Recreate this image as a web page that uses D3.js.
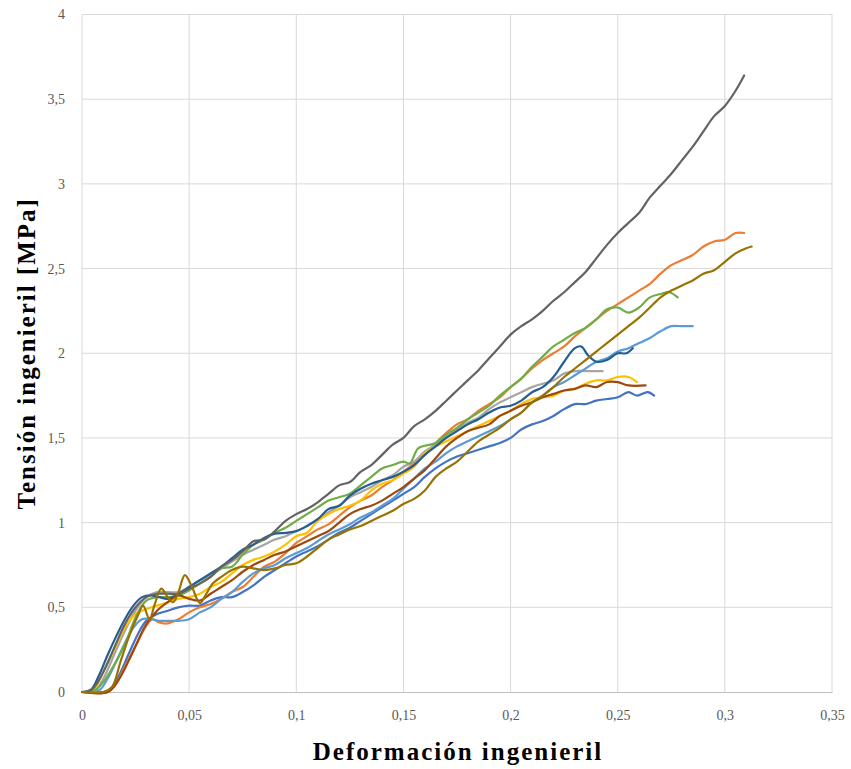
<!DOCTYPE html>
<html>
<head>
<meta charset="utf-8">
<script src="https://cdn.jsdelivr.net/npm/d3@7"></script>
<style>
  html, body { margin: 0; padding: 0; background: #fff; }
  svg { display: block; }
</style>
</head>
<body>
<svg id="chart" width="851" height="769"></svg>
<script>
// ---------- DATA (strain, stress MPa) ----------
const xTicks = [0, 0.05, 0.1, 0.15, 0.2, 0.25, 0.3, 0.35];
const yTicks = [0, 0.5, 1, 1.5, 2, 2.5, 3, 3.5, 4];
const xTitle = "Deformación ingenieril";
const yTitle = "Tensión ingenieril [MPa]";

const seriesColors = ["#4472C4", "#ED7D31", "#A5A5A5", "#FFC000", "#5B9BD5", "#70AD47", "#255E91", "#9E480E", "#636363", "#997300"];

const s1 = [[0,0],[0.01,0],[0.013,0.01],[0.017,0.09],[0.022,0.23],[0.026,0.34],[0.03,0.42],[0.035,0.46],[0.04,0.48],[0.045,0.5],[0.05,0.51],[0.055,0.51],[0.06,0.54],[0.065,0.56],[0.07,0.56],[0.075,0.59],[0.08,0.63],[0.085,0.68],[0.09,0.72],[0.095,0.76],[0.1,0.8],[0.105,0.83],[0.11,0.86],[0.115,0.9],[0.12,0.94],[0.125,0.97],[0.13,1.01],[0.135,1.05],[0.14,1.09],[0.145,1.13],[0.15,1.17],[0.155,1.21],[0.16,1.27],[0.165,1.32],[0.17,1.36],[0.175,1.39],[0.18,1.41],[0.185,1.43],[0.19,1.45],[0.195,1.47],[0.2,1.5],[0.205,1.55],[0.21,1.58],[0.215,1.6],[0.22,1.63],[0.225,1.67],[0.23,1.7],[0.235,1.7],[0.24,1.72],[0.245,1.73],[0.25,1.74],[0.255,1.77],[0.259,1.75],[0.264,1.77],[0.267,1.75]];

const s2 = [[0,0],[0.012,0],[0.016,0.05],[0.02,0.15],[0.025,0.27],[0.03,0.39],[0.033,0.43],[0.036,0.41],[0.04,0.405],[0.045,0.43],[0.05,0.47],[0.055,0.5],[0.06,0.52],[0.065,0.55],[0.07,0.59],[0.075,0.62],[0.08,0.68],[0.085,0.74],[0.09,0.77],[0.095,0.82],[0.1,0.88],[0.105,0.92],[0.11,0.96],[0.115,0.99],[0.12,1.04],[0.125,1.09],[0.13,1.13],[0.135,1.16],[0.14,1.21],[0.145,1.25],[0.15,1.3],[0.155,1.35],[0.16,1.4],[0.165,1.47],[0.17,1.53],[0.175,1.58],[0.18,1.61],[0.185,1.66],[0.19,1.7],[0.195,1.74],[0.2,1.8],[0.205,1.85],[0.21,1.91],[0.215,1.96],[0.22,2.0],[0.225,2.04],[0.23,2.1],[0.235,2.15],[0.24,2.2],[0.245,2.25],[0.25,2.29],[0.255,2.33],[0.26,2.37],[0.265,2.41],[0.27,2.47],[0.275,2.52],[0.28,2.55],[0.285,2.58],[0.29,2.63],[0.295,2.66],[0.3,2.67],[0.305,2.71],[0.309,2.71]];

const s3 = [[0,0],[0.006,0.01],[0.01,0.08],[0.015,0.22],[0.02,0.36],[0.025,0.48],[0.03,0.56],[0.035,0.59],[0.04,0.59],[0.045,0.59],[0.05,0.62],[0.055,0.66],[0.06,0.69],[0.065,0.73],[0.07,0.77],[0.075,0.81],[0.08,0.84],[0.085,0.87],[0.09,0.9],[0.095,0.92],[0.1,0.95],[0.105,0.98],[0.11,1.02],[0.115,1.06],[0.12,1.1],[0.125,1.15],[0.13,1.18],[0.135,1.21],[0.14,1.25],[0.145,1.28],[0.15,1.33],[0.155,1.36],[0.16,1.42],[0.165,1.46],[0.17,1.51],[0.175,1.55],[0.18,1.59],[0.185,1.62],[0.19,1.67],[0.195,1.71],[0.2,1.74],[0.205,1.77],[0.21,1.8],[0.215,1.82],[0.22,1.84],[0.225,1.88],[0.23,1.895],[0.236,1.895],[0.243,1.895]];

const s4 = [[0,0],[0.005,0.01],[0.01,0.12],[0.015,0.25],[0.02,0.38],[0.025,0.46],[0.03,0.49],[0.035,0.51],[0.04,0.53],[0.045,0.55],[0.05,0.56],[0.055,0.58],[0.06,0.62],[0.065,0.65],[0.07,0.7],[0.075,0.75],[0.08,0.78],[0.085,0.8],[0.09,0.83],[0.095,0.87],[0.1,0.92],[0.105,0.94],[0.11,1.01],[0.115,1.05],[0.12,1.08],[0.125,1.1],[0.13,1.13],[0.135,1.19],[0.14,1.23],[0.145,1.25],[0.15,1.29],[0.155,1.33],[0.16,1.41],[0.165,1.45],[0.17,1.48],[0.175,1.51],[0.18,1.54],[0.185,1.57],[0.19,1.6],[0.195,1.63],[0.2,1.66],[0.205,1.7],[0.21,1.73],[0.215,1.74],[0.22,1.75],[0.225,1.78],[0.23,1.79],[0.235,1.82],[0.24,1.84],[0.245,1.84],[0.25,1.86],[0.255,1.86],[0.259,1.83]];

const s5 = [[0,0],[0.008,0.01],[0.012,0.08],[0.016,0.18],[0.02,0.29],[0.024,0.38],[0.028,0.43],[0.032,0.43],[0.036,0.42],[0.04,0.42],[0.045,0.42],[0.05,0.43],[0.055,0.47],[0.06,0.5],[0.065,0.55],[0.07,0.59],[0.075,0.65],[0.08,0.7],[0.085,0.73],[0.09,0.75],[0.095,0.79],[0.1,0.82],[0.105,0.85],[0.11,0.89],[0.115,0.93],[0.12,0.96],[0.125,0.99],[0.13,1.03],[0.135,1.06],[0.14,1.1],[0.145,1.14],[0.15,1.2],[0.155,1.26],[0.16,1.32],[0.165,1.36],[0.17,1.41],[0.175,1.45],[0.18,1.48],[0.185,1.51],[0.19,1.54],[0.195,1.57],[0.2,1.61],[0.205,1.65],[0.21,1.71],[0.215,1.75],[0.22,1.8],[0.225,1.83],[0.23,1.87],[0.235,1.91],[0.24,1.95],[0.245,1.97],[0.25,2.01],[0.255,2.03],[0.26,2.06],[0.265,2.09],[0.27,2.13],[0.275,2.16],[0.28,2.16],[0.285,2.16]];

const s6 = [[0,0],[0.006,0.01],[0.01,0.06],[0.015,0.16],[0.02,0.28],[0.025,0.44],[0.03,0.54],[0.035,0.56],[0.04,0.56],[0.045,0.57],[0.05,0.6],[0.055,0.64],[0.06,0.68],[0.065,0.73],[0.07,0.74],[0.075,0.81],[0.08,0.87],[0.085,0.9],[0.09,0.94],[0.095,0.97],[0.1,1.01],[0.105,1.05],[0.11,1.09],[0.115,1.13],[0.12,1.15],[0.125,1.17],[0.13,1.22],[0.135,1.27],[0.14,1.32],[0.145,1.34],[0.15,1.36],[0.153,1.35],[0.157,1.44],[0.165,1.47],[0.17,1.52],[0.175,1.56],[0.18,1.61],[0.185,1.65],[0.19,1.69],[0.195,1.75],[0.2,1.8],[0.205,1.85],[0.21,1.92],[0.215,1.98],[0.22,2.04],[0.225,2.08],[0.23,2.12],[0.235,2.15],[0.24,2.2],[0.245,2.26],[0.25,2.27],[0.255,2.24],[0.26,2.27],[0.265,2.33],[0.27,2.35],[0.274,2.36],[0.278,2.33]];

const s7 = [[0,0],[0.004,0.01],[0.008,0.1],[0.012,0.22],[0.016,0.33],[0.02,0.43],[0.024,0.51],[0.028,0.56],[0.032,0.57],[0.036,0.56],[0.04,0.55],[0.045,0.58],[0.05,0.62],[0.055,0.66],[0.06,0.7],[0.065,0.74],[0.07,0.79],[0.075,0.84],[0.08,0.87],[0.085,0.91],[0.09,0.935],[0.095,0.94],[0.1,0.95],[0.105,0.98],[0.11,1.02],[0.115,1.08],[0.12,1.1],[0.125,1.16],[0.13,1.2],[0.135,1.23],[0.14,1.25],[0.145,1.27],[0.15,1.3],[0.155,1.34],[0.16,1.4],[0.165,1.45],[0.17,1.5],[0.175,1.54],[0.18,1.58],[0.185,1.61],[0.19,1.65],[0.195,1.68],[0.2,1.69],[0.205,1.72],[0.21,1.77],[0.215,1.8],[0.22,1.86],[0.225,1.95],[0.23,2.03],[0.233,2.04],[0.236,1.99],[0.24,1.95],[0.245,1.96],[0.25,2.0],[0.254,2.0],[0.257,2.03]];

const s8 = [[0,0],[0.012,0],[0.017,0.07],[0.022,0.19],[0.026,0.3],[0.03,0.4],[0.035,0.48],[0.04,0.53],[0.045,0.57],[0.05,0.55],[0.055,0.54],[0.06,0.58],[0.065,0.62],[0.07,0.66],[0.075,0.71],[0.08,0.75],[0.085,0.78],[0.09,0.81],[0.095,0.83],[0.1,0.86],[0.105,0.89],[0.11,0.92],[0.115,0.95],[0.12,1.0],[0.125,1.05],[0.13,1.08],[0.135,1.1],[0.14,1.13],[0.145,1.17],[0.15,1.21],[0.155,1.26],[0.16,1.31],[0.165,1.38],[0.17,1.45],[0.175,1.5],[0.18,1.54],[0.185,1.56],[0.19,1.58],[0.195,1.63],[0.2,1.66],[0.205,1.69],[0.21,1.71],[0.215,1.74],[0.22,1.76],[0.225,1.78],[0.23,1.79],[0.235,1.81],[0.24,1.8],[0.245,1.83],[0.25,1.83],[0.255,1.81],[0.263,1.81]];

const s9 = [[0,0],[0.005,0.02],[0.01,0.12],[0.015,0.26],[0.02,0.4],[0.025,0.5],[0.03,0.56],[0.035,0.58],[0.04,0.58],[0.045,0.58],[0.05,0.61],[0.055,0.64],[0.06,0.68],[0.065,0.74],[0.07,0.78],[0.075,0.83],[0.08,0.89],[0.085,0.9],[0.09,0.95],[0.095,1.01],[0.1,1.05],[0.105,1.08],[0.11,1.12],[0.115,1.17],[0.12,1.22],[0.125,1.24],[0.13,1.3],[0.135,1.34],[0.14,1.4],[0.145,1.46],[0.15,1.5],[0.155,1.57],[0.16,1.61],[0.165,1.66],[0.17,1.72],[0.175,1.78],[0.18,1.84],[0.185,1.9],[0.19,1.97],[0.195,2.04],[0.2,2.11],[0.205,2.16],[0.21,2.2],[0.215,2.25],[0.22,2.31],[0.225,2.36],[0.23,2.42],[0.235,2.48],[0.24,2.56],[0.245,2.64],[0.25,2.71],[0.255,2.77],[0.26,2.83],[0.265,2.92],[0.27,2.99],[0.275,3.06],[0.28,3.14],[0.285,3.22],[0.29,3.31],[0.295,3.4],[0.3,3.46],[0.305,3.55],[0.309,3.64]];

const s10 = [[0,0],[0.01,0],[0.014,0.03],[0.018,0.18],[0.022,0.33],[0.026,0.45],[0.0285,0.51],[0.0315,0.43],[0.034,0.52],[0.037,0.61],[0.04,0.56],[0.0425,0.53],[0.045,0.59],[0.048,0.69],[0.051,0.63],[0.055,0.525],[0.058,0.58],[0.061,0.64],[0.065,0.68],[0.07,0.72],[0.075,0.74],[0.08,0.73],[0.085,0.72],[0.09,0.73],[0.095,0.75],[0.1,0.76],[0.105,0.8],[0.11,0.85],[0.115,0.9],[0.12,0.93],[0.125,0.96],[0.13,0.98],[0.135,1.01],[0.14,1.04],[0.145,1.07],[0.15,1.11],[0.155,1.14],[0.16,1.19],[0.165,1.27],[0.17,1.32],[0.175,1.36],[0.18,1.42],[0.185,1.48],[0.19,1.52],[0.195,1.56],[0.2,1.61],[0.205,1.65],[0.21,1.71],[0.215,1.75],[0.22,1.8],[0.225,1.86],[0.23,1.91],[0.235,1.96],[0.24,2.01],[0.245,2.06],[0.25,2.11],[0.255,2.16],[0.26,2.21],[0.265,2.27],[0.27,2.33],[0.275,2.37],[0.28,2.4],[0.285,2.43],[0.29,2.47],[0.295,2.49],[0.3,2.54],[0.305,2.59],[0.31,2.62],[0.3125,2.63]];

const allSeries = [s1, s2, s3, s4, s5, s6, s7, s8, s9, s10];

// ---------- CHART ----------
const svg = d3.select("#chart");
const W = 851, H = 769;
const margin = { left: 82, right: 19, top: 14.5, bottom: 77 };
const x = d3.scaleLinear().domain([0, 0.35]).range([margin.left, W - margin.right]);
const y = d3.scaleLinear().domain([0, 4]).range([H - margin.bottom, margin.top]);

svg.append("rect").attr("width", W).attr("height", H).attr("fill", "#fff");

const fmt = v => String(v).replace(".", ",");
const serif = "'Liberation Serif', 'DejaVu Serif', serif";

// gridlines
const grid = svg.append("g");
grid.selectAll("line.h").data(yTicks.slice(1)).join("line")
  .attr("x1", x(0)).attr("x2", x(0.35))
  .attr("y1", d => y(d)).attr("y2", d => y(d))
  .attr("stroke", "#D9D9D9").attr("stroke-width", 1);
grid.selectAll("line.v").data(xTicks).join("line")
  .attr("y1", y(0)).attr("y2", y(4))
  .attr("x1", d => x(d)).attr("x2", d => x(d))
  .attr("stroke", "#D9D9D9").attr("stroke-width", 1);

// bottom axis
const xAxis = d3.axisBottom(x).tickValues(xTicks).tickFormat(fmt).tickSize(0).tickPadding(18);
const gx = svg.append("g").attr("transform", `translate(0,${y(0)})`).call(xAxis);
gx.select(".domain").attr("stroke", "#BFBFBF").attr("stroke-width", 1);
gx.selectAll("text").attr("font-family", serif).attr("font-size", 14).attr("fill", "#595959");

const yAxis = d3.axisLeft(y).tickValues(yTicks).tickFormat(fmt).tickSize(0).tickPadding(17);
const gy = svg.append("g").attr("transform", `translate(${x(0)},0)`).call(yAxis);
gy.select(".domain").remove();
gy.selectAll("text").attr("font-family", serif).attr("font-size", 14).attr("fill", "#595959");

// lines
const line = d3.line().x(d => x(d[0])).y(d => y(d[1])).curve(d3.curveCatmullRom.alpha(0.5));
svg.append("g")
  .selectAll("path").data(allSeries).join("path")
  .attr("d", line)
  .attr("fill", "none")
  .attr("stroke", (d, i) => seriesColors[i])
  .attr("stroke-width", 2.2)
  .attr("stroke-linejoin", "round")
  .attr("stroke-linecap", "round");

// titles
svg.append("text")
  .attr("x", 458).attr("y", 760)
  .attr("text-anchor", "middle")
  .attr("font-family", serif).attr("font-weight", "bold").attr("font-size", 25)
  .attr("letter-spacing", 2)
  .attr("fill", "#000")
  .text(xTitle);

svg.append("text")
  .attr("transform", `translate(35,${(y(0) + y(4)) / 2}) rotate(-90)`)
  .attr("text-anchor", "middle")
  .attr("font-family", serif).attr("font-weight", "bold").attr("font-size", 25)
  .attr("letter-spacing", 2)
  .attr("fill", "#000")
  .text(yTitle);
</script>
</body>
</html>
